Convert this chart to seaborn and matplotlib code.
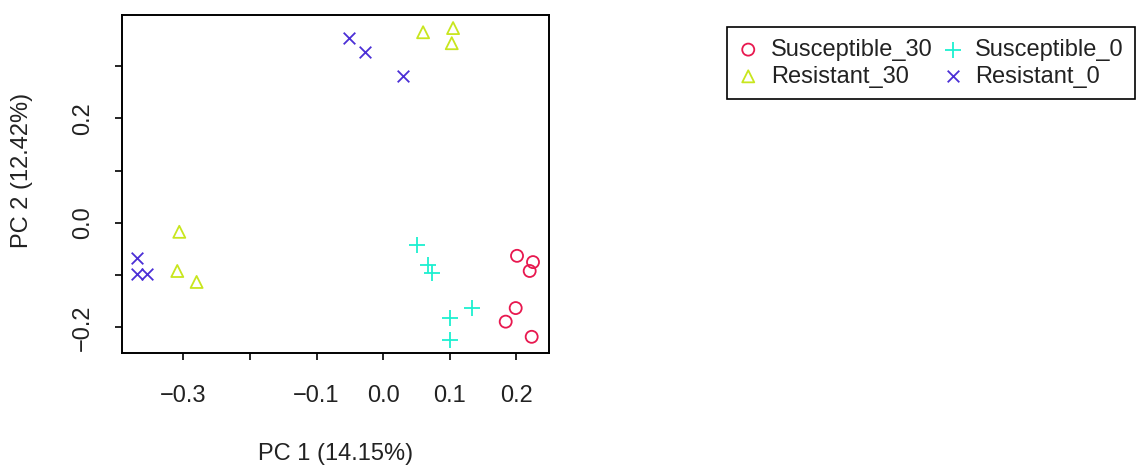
import numpy as np
import pandas as pd
import matplotlib
matplotlib.use('Agg')
import matplotlib.pyplot as plt
from matplotlib.markers import MarkerStyle
import seaborn as sns

# PCA scores
grupos = ['Susceptible_30', 'Resistant_30', 'Susceptible_0', 'Resistant_0']

pc1_susceptible_30 = [0.201, 0.225, 0.220, 0.199, 0.184, 0.223]
pc2_susceptible_30 = [-0.063, -0.075, -0.092, -0.163, -0.189, -0.218]

pc1_resistant_30 = [0.060, 0.105, 0.103, -0.306, -0.309, -0.280]
pc2_resistant_30 = [0.365, 0.373, 0.344, -0.017, -0.092, -0.113]

pc1_susceptible_0 = [0.051, 0.067, 0.073, 0.100, 0.133, 0.100]
pc2_susceptible_0 = [-0.042, -0.080, -0.096, -0.182, -0.163, -0.224]

pc1_resistant_0 = [-0.051, -0.027, 0.030, -0.369, -0.369, -0.354]
pc2_resistant_0 = [0.354, 0.327, 0.281, -0.067, -0.098, -0.098]

x_ticks = [-0.3, -0.2, -0.1, 0.0, 0.1, 0.2]
x_tick_labels = ['\u22120.3', '', '\u22120.1', '0.0', '0.1', '0.2']
y_ticks = [-0.2, -0.1, 0.0, 0.1, 0.2, 0.3]
y_tick_labels = ['\u22120.2', '', '0.0', '', '0.2', '']

df = pd.DataFrame({
    'PC1': pc1_susceptible_30 + pc1_resistant_30 + pc1_susceptible_0 + pc1_resistant_0,
    'PC2': pc2_susceptible_30 + pc2_resistant_30 + pc2_susceptible_0 + pc2_resistant_0,
    'grupo': np.repeat(grupos, 6),
})

cores = {'Susceptible_30': '#E8184F', 'Resistant_30': '#C8E61E',
         'Susceptible_0': '#1CF0D0', 'Resistant_0': '#4B2FD6'}
marcadores = {'Susceptible_30': MarkerStyle('o', fillstyle='none'),
              'Resistant_30': MarkerStyle('^', fillstyle='none'),
              'Susceptible_0': '+', 'Resistant_0': 'x'}
tamanhos = {'Susceptible_30': 75, 'Resistant_30': 75, 'Susceptible_0': 130, 'Resistant_0': 70}

sns.set_theme(style='white')
plt.rcParams['font.family'] = ['Liberation Sans', 'DejaVu Sans']

fig = plt.figure(figsize=(11.44, 4.65), dpi=100)
ax = fig.add_axes([122 / 1144, (465 - 353) / 465, 427 / 1144, 338 / 465])

for g in grupos:
    sub = df[df['grupo'] == g]
    sns.scatterplot(data=sub, x='PC1', y='PC2', ax=ax, color=cores[g],
                    marker=marcadores[g], s=tamanhos[g], linewidth=1.3, label=g)

ax.set_xlim(-0.392, 0.249)
ax.set_ylim(-0.249, 0.398)
ax.set_xticks(x_ticks)
ax.set_xticklabels(x_tick_labels)
ax.set_yticks(y_ticks)
ax.set_yticklabels(y_tick_labels, rotation=90, va='center')

for s in ax.spines.values():
    s.set_color('black')
    s.set_linewidth(1.4)
ax.tick_params(axis='both', direction='out', length=5, width=1.2, color='black',
               labelsize=17, labelcolor='#222222', left=True, bottom=True)
ax.tick_params(axis='x', pad=18)
ax.tick_params(axis='y', pad=15)

ax.set_xlabel('PC 1 (14.15%)', fontsize=17, color='#222222')
ax.set_ylabel('PC 2 (12.42%)', fontsize=17, color='#222222')
ax.xaxis.label.set_va('center')
ax.yaxis.label.set_va('center')
ax.xaxis.set_label_coords(0.5, -0.299)
ax.yaxis.set_label_coords(-0.234, 0.541)

handles, labels = ax.get_legend_handles_labels()
ax.get_legend().remove()
leg = fig.legend(handles, labels, ncol=2, loc='upper left',
                 bbox_to_anchor=(727 / 1144, 1 - 27 / 465), fontsize=17,
                 frameon=True, fancybox=False, edgecolor='black', framealpha=1,
                 borderpad=0.5, handlelength=0.8, handletextpad=0.55,
                 columnspacing=0.45, labelspacing=0.2, borderaxespad=0)
leg.get_frame().set_linewidth(1.2)
for t in leg.get_texts():
    t.set_color('#222222')

plt.savefig('out.png', dpi=100)
